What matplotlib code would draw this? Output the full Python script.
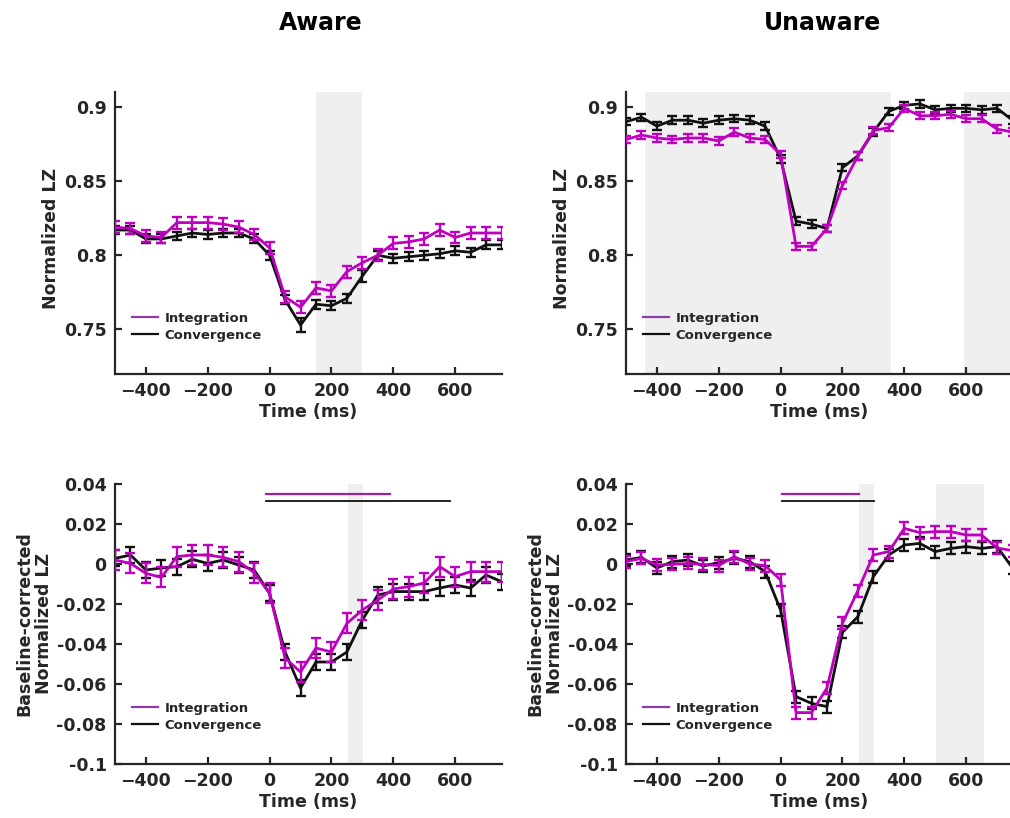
import numpy as np
import matplotlib
matplotlib.use("Agg")
import matplotlib.pyplot as plt
from matplotlib.lines import Line2D

plt.rcParams["font.family"] = ["DejaVu Sans"]
plt.rcParams["font.weight"] = "bold"

# time bins (ms), one point every 50 ms
time_ms = np.arange(-500, 751, 50)

# --- Aware, raw normalized LZ ---
aware_int = [0.819, 0.818, 0.813, 0.812, 0.822, 0.822, 0.822, 0.821, 0.819, 0.814,
             0.805, 0.772, 0.765, 0.778, 0.776, 0.789, 0.795, 0.800, 0.808, 0.809,
             0.811, 0.817, 0.812, 0.815, 0.815, 0.815]
aware_int_err = [0.004, 0.004, 0.004, 0.004, 0.004, 0.004, 0.004, 0.004, 0.004, 0.004,
                 0.004, 0.004, 0.004, 0.004, 0.004, 0.004, 0.004, 0.004, 0.004, 0.004,
                 0.004, 0.004, 0.004, 0.004, 0.004, 0.004]
aware_conv = [0.817, 0.817, 0.811, 0.811, 0.813, 0.815, 0.814, 0.815, 0.815, 0.811,
              0.800, 0.770, 0.753, 0.767, 0.766, 0.771, 0.786, 0.800, 0.798, 0.799,
              0.800, 0.801, 0.803, 0.802, 0.807, 0.807]
aware_conv_err = [0.003, 0.003, 0.003, 0.003, 0.003, 0.003, 0.003, 0.003, 0.003, 0.003,
                  0.003, 0.003, 0.005, 0.003, 0.003, 0.003, 0.004, 0.003, 0.003, 0.003,
                  0.003, 0.003, 0.003, 0.003, 0.003, 0.003]

# --- Unaware, raw normalized LZ ---
unaware_int = [0.878, 0.881, 0.879, 0.878, 0.879, 0.879, 0.877, 0.883, 0.879, 0.878,
               0.868, 0.806, 0.806, 0.818, 0.847, 0.867, 0.884, 0.886, 0.899, 0.894,
               0.894, 0.895, 0.892, 0.892, 0.885, 0.883]
unaware_int_err = [0.0025, 0.0025, 0.0025, 0.0025, 0.0025, 0.0025, 0.0025, 0.0025, 0.0025, 0.0025,
                   0.0025, 0.0025, 0.0025, 0.0025, 0.0025, 0.0025, 0.0025, 0.0025, 0.0025, 0.0025,
                   0.0025, 0.0025, 0.0025, 0.0025, 0.0025, 0.0025]
unaware_conv = [0.890, 0.893, 0.887, 0.891, 0.891, 0.889, 0.891, 0.892, 0.891, 0.887,
                0.865, 0.823, 0.821, 0.818, 0.859, 0.867, 0.883, 0.897, 0.901, 0.902,
                0.898, 0.899, 0.899, 0.898, 0.899, 0.891]
unaware_conv_err = [0.0025, 0.0025, 0.0025, 0.0025, 0.0025, 0.0025, 0.0025, 0.0025, 0.0025, 0.0025,
                    0.0025, 0.0025, 0.0025, 0.0025, 0.0025, 0.0025, 0.0025, 0.0025, 0.0025, 0.0025,
                    0.0025, 0.0025, 0.0025, 0.0025, 0.0025, 0.0025]

# --- Aware, baseline-corrected ---
aware_bc_int = [0.002, 0.0003, -0.0047, -0.0067, 0.0037, 0.0045, 0.0045, 0.0033, 0.0012, -0.0043,
                -0.0147, -0.047, -0.054, -0.042, -0.044, -0.0297, -0.023, -0.018, -0.0125, -0.0113,
                -0.0095, -0.0013, -0.0063, -0.0038, -0.0038, -0.0038]
aware_bc_int_err = [0.005, 0.005, 0.005, 0.005, 0.005, 0.005, 0.005, 0.005, 0.005, 0.005,
                    0.005, 0.005, 0.005, 0.005, 0.005, 0.005, 0.005, 0.005, 0.005, 0.005,
                    0.005, 0.005, 0.005, 0.005, 0.005, 0.005]
aware_bc_conv = [0.0028, 0.0045, -0.003, -0.002, -0.0013, 0.0023, 0.0003, 0.002, -0.0005, -0.003,
                 -0.0147, -0.044, -0.062, -0.049, -0.049, -0.044, -0.028, -0.0155, -0.0138, -0.0138,
                 -0.0138, -0.012, -0.0105, -0.012, -0.0055, -0.0088]
aware_bc_conv_err = [0.004, 0.004, 0.004, 0.004, 0.004, 0.004, 0.004, 0.004, 0.004, 0.004,
                     0.004, 0.004, 0.004, 0.004, 0.004, 0.004, 0.004, 0.004, 0.004, 0.004,
                     0.004, 0.004, 0.004, 0.004, 0.004, 0.004]

# --- Unaware, baseline-corrected ---
unaware_bc_int = [0.0012, 0.0028, -0.0005, -0.0002, 0.0003, -0.0002, -0.0008, 0.0037, 0.0, -0.0008,
                  -0.008, -0.0743, -0.0743, -0.062, -0.0297, -0.0133, 0.0045, 0.0062, 0.0178, 0.0157,
                  0.0162, 0.0162, 0.0145, 0.0145, 0.008, 0.0067]
unaware_bc_int_err = [0.003, 0.003, 0.003, 0.003, 0.003, 0.003, 0.003, 0.003, 0.003, 0.003,
                      0.003, 0.003, 0.003, 0.003, 0.003, 0.003, 0.003, 0.003, 0.003, 0.003,
                      0.003, 0.003, 0.003, 0.003, 0.003, 0.003]
unaware_bc_conv = [0.002, 0.0033, -0.002, 0.0012, 0.002, -0.001, 0.0007, 0.0028, 0.0012, -0.0038,
                   -0.023, -0.0663, -0.0697, -0.0713, -0.0342, -0.0263, -0.0063, 0.0045, 0.0095, 0.0103,
                   0.0062, 0.0078, 0.0087, 0.0078, 0.0087, -0.002]
unaware_bc_conv_err = [0.003, 0.003, 0.003, 0.003, 0.003, 0.003, 0.003, 0.003, 0.003, 0.003,
                       0.003, 0.003, 0.003, 0.003, 0.003, 0.003, 0.003, 0.003, 0.003, 0.003,
                       0.003, 0.003, 0.003, 0.003, 0.003, 0.003]

# shaded windows (ms) and significance bars (ms start, ms end)
aware_shade = [(150, 300)]
unaware_shade = [(-440, 358), (594, 750)]
aware_bc_shade = [(252, 303)]
unaware_bc_shade = [(252, 303), (503, 658)]
aware_sig_int = (-12, 388)
aware_sig_conv = (-12, 585)
unaware_sig_int = (6, 255)
unaware_sig_conv = (6, 303)

MAG = "#bf00bf"
BLK = "#111111"
AX = "#262626"
SHADE = "#efefef"
LEG_MAG = "#8c3ca8"
SIG_MAG = "#a020a0"
FS = 12.5

W, H = 1010, 818
fig = plt.figure(figsize=(W / 100, H / 100), dpi=100)


def px_axes(left, top, right, bottom):
    return fig.add_axes([left / W, 1 - bottom / H, (right - left) / W, (bottom - top) / H])


def panel(ax, y_int, e_int, y_conv, e_conv, shades, ylim, yticks, yticklabels, ylabel,
          ylabel_xy, sig=None):
    for a, b in shades:
        ax.axvspan(a, b, color=SHADE, lw=0, zorder=0)
    kw = dict(lw=2.0, elinewidth=1.7, capsize=3.8, capthick=1.7)
    ax.errorbar(time_ms, y_conv, yerr=e_conv, color=BLK, zorder=3, **kw)
    ax.errorbar(time_ms, y_int, yerr=e_int, color=MAG, zorder=4, **kw)
    if sig is not None:
        (s1, s2) = sig
        ax.plot(s1, [0.035, 0.035], color=SIG_MAG, lw=1.6, zorder=5)
        ax.plot(s2, [0.0317, 0.0317], color=BLK, lw=1.3, zorder=5)
    ax.set_xlim(-500, 750)
    ax.set_ylim(*ylim)
    ax.set_xticks([-400, -200, 0, 200, 400, 600])
    ax.set_yticks(yticks)
    ax.set_yticklabels(yticklabels)
    for s in ("top", "right"):
        ax.spines[s].set_visible(False)
    for s in ("left", "bottom"):
        ax.spines[s].set_color(AX)
        ax.spines[s].set_linewidth(1.6)
    ax.tick_params(direction="in", length=5, width=1.6, color=AX, labelcolor=AX,
                   labelsize=FS, pad=6)
    for lab in ax.get_xticklabels() + ax.get_yticklabels():
        lab.set_fontweight("bold")
    ax.set_xlabel("Time (ms)", fontsize=FS, fontweight="bold", color=AX, labelpad=2)
    ax.set_ylabel(ylabel, fontsize=FS, fontweight="bold", color=AX, linespacing=1.1)
    ax.yaxis.set_label_coords(*ylabel_xy)
    handles = [Line2D([], [], color=LEG_MAG, lw=1.6), Line2D([], [], color=BLK, lw=1.6)]
    ax.legend(handles, ["Integration", "Convergence"], loc="center left",
              bbox_to_anchor=(0.044, 0.168), frameon=False, handlelength=2.0,
              handletextpad=0.45, labelspacing=0.3, borderaxespad=0, borderpad=0,
              prop=dict(size=9.5, weight="bold"), labelcolor=AX)


raw_ticks = [0.75, 0.8, 0.85, 0.9]
raw_labels = ["0.75", "0.8", "0.85", "0.9"]
bc_ticks = [-0.1, -0.08, -0.06, -0.04, -0.02, 0, 0.02, 0.04]
bc_labels = ["-0.1", "-0.08", "-0.06", "-0.04", "-0.02", "0", "0.02", "0.04"]

ax1 = px_axes(115, 92, 501.5, 374)
panel(ax1, aware_int, aware_int_err, aware_conv, aware_conv_err, aware_shade,
      (0.72, 0.91), raw_ticks, raw_labels, "Normalized LZ", (-0.143, 0.479))
ax2 = px_axes(626, 92, 1012.5, 374)
panel(ax2, unaware_int, unaware_int_err, unaware_conv, unaware_conv_err, unaware_shade,
      (0.72, 0.91), raw_ticks, raw_labels, "Normalized LZ", (-0.143, 0.479))
ax3 = px_axes(115, 484, 501.5, 764)
panel(ax3, aware_bc_int, aware_bc_int_err, aware_bc_conv, aware_bc_conv_err, aware_bc_shade,
      (-0.1, 0.04), bc_ticks, bc_labels, "Baseline-corrected\nNormalized LZ", (-0.16, 0.5),
      sig=(aware_sig_int, aware_sig_conv))
ax4 = px_axes(626, 484, 1012.5, 764)
panel(ax4, unaware_bc_int, unaware_bc_int_err, unaware_bc_conv, unaware_bc_conv_err,
      unaware_bc_shade, (-0.1, 0.04), bc_ticks, bc_labels, "Baseline-corrected\nNormalized LZ",
      (-0.16, 0.5), sig=(unaware_sig_int, unaware_sig_conv))

fig.text(321 / W, 1 - 23 / H, "Aware", ha="center", va="center", fontsize=17, fontweight="bold")
fig.text(822 / W, 1 - 23 / H, "Unaware", ha="center", va="center", fontsize=17, fontweight="bold")

fig.savefig("out.png", dpi=100)
